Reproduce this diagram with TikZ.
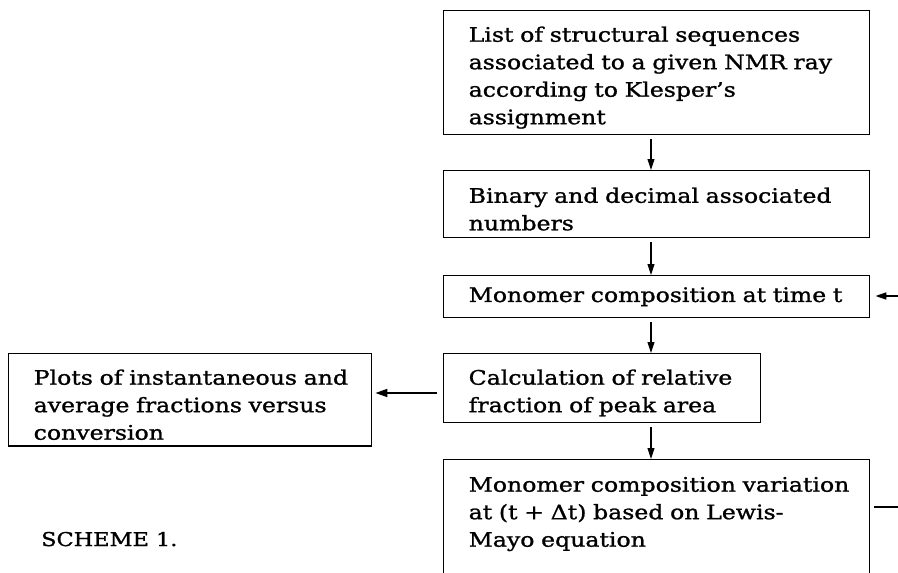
\documentclass[tikz,border=0pt]{standalone}
\usepackage{fontspec}
\setmainfont{DejaVu Serif}[FakeStretch=1.18, FakeBold=1.2]
\usetikzlibrary{arrows.meta}
\hfuzz=200pt
\hbadness=10000
\tikzset{
  box/.style={draw, line width=1.4pt, anchor=north west, align=left,
    inner xsep=25pt, inner ysep=6pt, font=\fontsize{20}{27.5}\selectfont},
  arr/.style={line width=1.1pt, -{Triangle[length=11pt,width=7pt]}},
  thickarr/.style={line width=1.8pt, -{Triangle[length=12pt,width=8pt]}},
  ln/.style={line width=1.8pt}
}
\newcommand{\myline}[1]{\mbox{#1}}
\newcommand{\myfirst}[1]{\mbox{\rule{0pt}{25pt}#1}}
\begin{document}
\begin{tikzpicture}[x=1pt,y=-1pt]
\useasboundingbox (0,0) rectangle (898,573);
\clip (0,0) rectangle (898,573);
\coordinate (ax) at (651,0);
\node[box, text width=376pt, minimum height=124pt] (b1) at (443,10)
  {\myfirst{List of structural sequences}\\\myline{associated to a given NMR ray}\\\myline{according to Klesper's}\\\myline{assignment}};
\node[box, text width=376pt, minimum height=67pt] (b2) at (443,170)
  {\myfirst{Binary and decimal associated}\\\myline{numbers}};
\node[box, text width=376pt, minimum height=42pt] (b3) at (443,275)
  {\myline{Monomer composition at time t}};
\node[box, text width=267pt, minimum height=68pt] (b4) at (443,353)
  {\myfirst{Calculation of relative}\\\myline{fraction of peak area}};
\node[box, text width=313pt, minimum height=92pt] (lb) at (8,353)
  {\myfirst{Plots of instantaneous and}\\\myline{average fractions versus}\\\myline{conversion}};
\node[box, text width=376pt, inner ysep=7pt] (b5) at (443,459)
  {\myfirst{Monomer composition variation}\\\myline{at (t + Δt) based on Lewis-}\\\myline{Mayo equation}\\\mbox{}\\\mbox{}};
\node[anchor=base west, font=\fontsize{19}{24}\selectfont, inner sep=0pt] (sch) at (41,546) {SCHEME 1.};
\coordinate (r1) at (898,507);
\coordinate (r2) at (898,296);
\coordinate (ay) at (0,393);
\draw[arr, shorten <=4pt] (b1.south -| ax) -- (b2.north -| ax);
\draw[arr, shorten <=4pt] (b2.south -| ax) -- (b3.north -| ax);
\draw[arr, shorten <=4pt] (b3.south -| ax) -- (b4.north -| ax);
\draw[arr, shorten <=4pt] (b4.south -| ax) -- (b5.north -| ax);
\draw[thickarr, shorten <=6pt, shorten >=3pt] (b4.west |- ay) -- (lb.east |- ay);
\draw[ln, shorten <=4pt] (b5.east |- r1) -- (r1);
\draw[arr, line width=1.6pt, shorten >=5pt] (r2) -- (b3.east |- r2);
\end{tikzpicture}
\end{document}
